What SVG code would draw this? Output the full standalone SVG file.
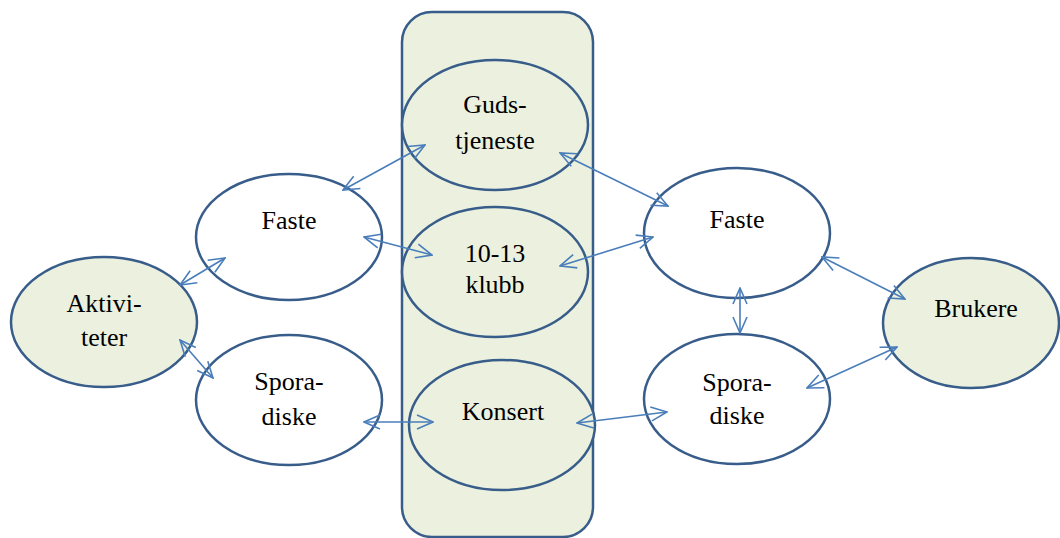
<svg xmlns="http://www.w3.org/2000/svg" width="1060" height="538" viewBox="0 0 1060 538">
<style>
.n{fill:#fff;stroke:#385D8A;stroke-width:2.5}
.g{fill:#EBF1DE;stroke:#385D8A;stroke-width:2.5}
.t{font-size:26px;fill:#000;text-anchor:middle}
.c{stroke:#4A7EBB;stroke-width:1.6;fill:none;marker-start:url(#a);marker-end:url(#a)}
</style>
<defs>
<marker id="a" viewBox="0 0 18 18" refX="17" refY="9" markerWidth="18" markerHeight="18" markerUnits="userSpaceOnUse" orient="auto-start-reverse">
<path d="M1,2 L17,9 L1,16" fill="none" stroke="#4A7EBB" stroke-width="1.6"/>
</marker>
</defs>
<rect id="band" x="402" y="12" width="191" height="525" rx="30" class="g"/>
<g font-family="Liberation Serif, Times New Roman, DejaVu Serif, serif">
<g id="guds"><ellipse cx="495" cy="125" rx="93" ry="65" class="g"/><text class="t" x="495" y="113">Guds-</text><text class="t" x="495" y="149">tjeneste</text></g>
<g id="klubb"><ellipse cx="495" cy="272" rx="93" ry="65" class="g"/><text class="t" x="495" y="262">10-13</text><text class="t" x="495" y="293">klubb</text></g>
<g id="konsert"><ellipse cx="502" cy="425" rx="93" ry="65" class="g"/><text class="t" x="503" y="420">Konsert</text></g>
<g id="faste-l"><ellipse cx="289" cy="237" rx="93" ry="63" class="n"/><text class="t" x="289" y="229">Faste</text></g>
<g id="spora-l"><ellipse cx="289" cy="400" rx="93" ry="65" class="n"/><text class="t" x="289" y="390">Spora-</text><text class="t" x="289" y="425">diske</text></g>
<g id="aktiviteter"><ellipse cx="104" cy="322" rx="93" ry="65" class="g"/><text class="t" x="104" y="312">Aktivi-</text><text class="t" x="104" y="346">teter</text></g>
<g id="faste-r"><ellipse cx="737" cy="233" rx="93" ry="65" class="n"/><text class="t" x="737" y="228">Faste</text></g>
<g id="spora-r"><ellipse cx="737" cy="399" rx="93" ry="65" class="n"/><text class="t" x="737" y="391">Spora-</text><text class="t" x="737" y="424">diske</text></g>
<g id="brukere"><ellipse cx="971" cy="323" rx="88" ry="65" class="g"/><text class="t" x="976" y="317">Brukere</text></g>
</g>
<g id="connectors">
<line class="c" x1="343" y1="190" x2="425" y2="145"/>
<line class="c" x1="364" y1="237" x2="432" y2="255"/>
<line class="c" x1="180" y1="285" x2="225" y2="258"/>
<line class="c" x1="180" y1="340" x2="213" y2="378"/>
<line class="c" x1="364" y1="422" x2="433" y2="422"/>
<line class="c" x1="577" y1="423" x2="667" y2="412"/>
<line class="c" x1="560" y1="153" x2="668" y2="206"/>
<line class="c" x1="560" y1="266" x2="653" y2="237"/>
<line class="c" x1="740" y1="288" x2="740" y2="333"/>
<line class="c" x1="822" y1="257" x2="905" y2="299"/>
<line class="c" x1="807" y1="388" x2="897" y2="347"/>
</g>
</svg>
